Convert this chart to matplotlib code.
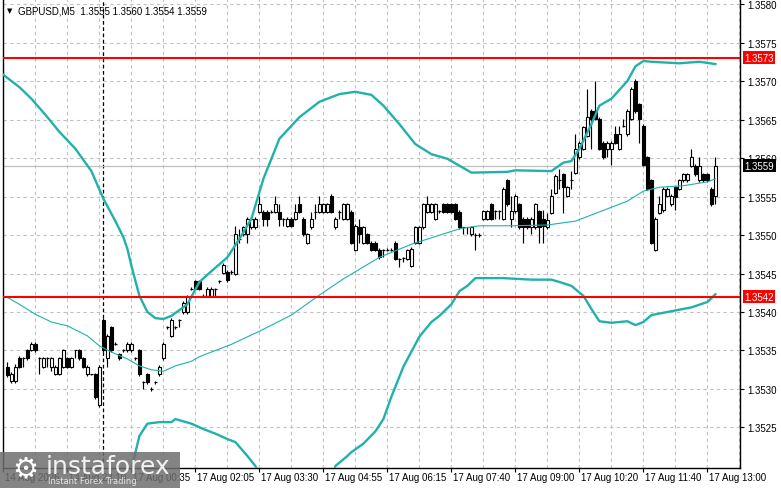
import matplotlib.pyplot as plt
from matplotlib.patches import Rectangle

# GBPUSD M5 candles, bars 1..178 (left to right)
opens = [1.35329, 1.35310, 1.35310, 1.35340, 1.35340, 1.35350, 1.35350, 1.35359, 1.35340, 1.35329,
         1.35340, 1.35329, 1.35319, 1.35319, 1.35329, 1.35340, 1.35329, 1.35350, 1.35350, 1.35340,
         1.35319, 1.35319, 1.35319, 1.35279, 1.35390, 1.35340, 1.35380, 1.35359, 1.35345, 1.35350,
         1.35350, 1.35350, 1.35340, 1.35350, 1.35309, 1.35319, 1.35300, 1.35309, 1.35319, 1.35340,
         1.35380, 1.35369, 1.35380, 1.35390, 1.35400, 1.35400, 1.35430, 1.35440, 1.35440, 1.35421,
         1.35421, 1.35421, 1.35430, 1.35440, 1.35451, 1.35452, 1.35452, 1.35450, 1.35495, 1.35501,
         1.35501, 1.35510, 1.35510, 1.35530, 1.35530, 1.35530, 1.35530, 1.35530, 1.35530, 1.35521,
         1.35512, 1.35521, 1.35521, 1.35540, 1.35521, 1.35490, 1.35510, 1.35530, 1.35530, 1.35530,
         1.35530, 1.35551, 1.35510, 1.35530, 1.35521, 1.35521, 1.35530, 1.35481, 1.35510, 1.35490,
         1.35501, 1.35490, 1.35490, 1.35481, 1.35481, 1.35481, 1.35481, 1.35490, 1.35469, 1.35470,
         1.35469, 1.35460, 1.35490, 1.35490, 1.35510, 1.35530, 1.35530, 1.35521, 1.35531, 1.35540,
         1.35540, 1.35540, 1.35540, 1.35530, 1.35510, 1.35510, 1.35501, 1.35500, 1.35500, 1.35521,
         1.35521, 1.35540, 1.35531, 1.35531, 1.35521, 1.35571, 1.35521, 1.35531, 1.35540, 1.35521,
         1.35521, 1.35510, 1.35510, 1.35531, 1.35521, 1.35510, 1.35529, 1.35555, 1.35571, 1.35579,
         1.35551, 1.35571, 1.35581, 1.35601, 1.35612, 1.35629, 1.35661, 1.35661, 1.35651, 1.35620,
         1.35612, 1.35612, 1.35631, 1.35612, 1.35642, 1.35631, 1.35651, 1.35700, 1.35670, 1.35642,
         1.35601, 1.35571, 1.35481, 1.35529, 1.35532, 1.35551, 1.35540, 1.35562, 1.35560, 1.35571,
         1.35571, 1.35590, 1.35590, 1.35571, 1.35579, 1.35579, 1.35560, 1.35551]
highs = [1.35335, 1.35322, 1.35332, 1.35343, 1.35341, 1.35352, 1.35361, 1.35361, 1.35342, 1.35342,
         1.35341, 1.35342, 1.35331, 1.35342, 1.35352, 1.35342, 1.35342, 1.35351, 1.35352, 1.35342,
         1.35331, 1.35320, 1.35321, 1.35331, 1.35392, 1.35371, 1.35382, 1.35361, 1.35347, 1.35352,
         1.35361, 1.35361, 1.35342, 1.35352, 1.35310, 1.35321, 1.35302, 1.35311, 1.35331, 1.35361,
         1.35382, 1.35392, 1.35382, 1.35391, 1.35414, 1.35422, 1.35432, 1.35442, 1.35442, 1.35423,
         1.35432, 1.35432, 1.35431, 1.35442, 1.35463, 1.35454, 1.35454, 1.35512, 1.35508, 1.35512,
         1.35523, 1.35523, 1.35523, 1.35551, 1.35532, 1.35532, 1.35532, 1.35551, 1.35540, 1.35522,
         1.35523, 1.35523, 1.35540, 1.35551, 1.35523, 1.35503, 1.35530, 1.35540, 1.35551, 1.35542,
         1.35542, 1.35553, 1.35523, 1.35532, 1.35542, 1.35542, 1.35532, 1.35514, 1.35521, 1.35512,
         1.35503, 1.35492, 1.35492, 1.35483, 1.35482, 1.35483, 1.35483, 1.35492, 1.35470, 1.35471,
         1.35482, 1.35484, 1.35512, 1.35512, 1.35542, 1.35551, 1.35542, 1.35542, 1.35533, 1.35542,
         1.35542, 1.35542, 1.35542, 1.35532, 1.35511, 1.35511, 1.35512, 1.35502, 1.35502, 1.35533,
         1.35533, 1.35542, 1.35532, 1.35532, 1.35562, 1.35573, 1.35551, 1.35553, 1.35542, 1.35523,
         1.35523, 1.35523, 1.35542, 1.35533, 1.35533, 1.35529, 1.35560, 1.35579, 1.35586, 1.35581,
         1.35564, 1.35583, 1.35631, 1.35622, 1.35642, 1.35690, 1.35663, 1.35700, 1.35653, 1.35622,
         1.35622, 1.35622, 1.35642, 1.35642, 1.35651, 1.35663, 1.35692, 1.35702, 1.35672, 1.35644,
         1.35603, 1.35573, 1.35523, 1.35551, 1.35562, 1.35562, 1.35553, 1.35564, 1.35573, 1.35581,
         1.35581, 1.35612, 1.35592, 1.35601, 1.35581, 1.35581, 1.35562, 1.35601]
lows = [1.35315, 1.35308, 1.35308, 1.35327, 1.35329, 1.35338, 1.35349, 1.35348, 1.35319, 1.35327,
        1.35329, 1.35324, 1.35318, 1.35318, 1.35327, 1.35327, 1.35327, 1.35340, 1.35338, 1.35327,
        1.35317, 1.35318, 1.35287, 1.35277, 1.35348, 1.35329, 1.35348, 1.35357, 1.35338, 1.35348,
        1.35348, 1.35348, 1.35338, 1.35317, 1.35300, 1.35307, 1.35298, 1.35307, 1.35317, 1.35338,
        1.35378, 1.35367, 1.35378, 1.35380, 1.35398, 1.35398, 1.35428, 1.35428, 1.35428, 1.35419,
        1.35419, 1.35419, 1.35421, 1.35438, 1.35449, 1.35439, 1.35450, 1.35448, 1.35490, 1.35499,
        1.35490, 1.35508, 1.35508, 1.35528, 1.35512, 1.35512, 1.35528, 1.35528, 1.35512, 1.35512,
        1.35510, 1.35510, 1.35519, 1.35528, 1.35499, 1.35488, 1.35508, 1.35521, 1.35528, 1.35528,
        1.35528, 1.35528, 1.35508, 1.35521, 1.35519, 1.35519, 1.35488, 1.35479, 1.35490, 1.35488,
        1.35488, 1.35479, 1.35479, 1.35469, 1.35471, 1.35479, 1.35479, 1.35467, 1.35458, 1.35465,
        1.35467, 1.35458, 1.35488, 1.35488, 1.35508, 1.35528, 1.35528, 1.35519, 1.35529, 1.35528,
        1.35528, 1.35528, 1.35519, 1.35508, 1.35501, 1.35501, 1.35499, 1.35480, 1.35498, 1.35519,
        1.35519, 1.35519, 1.35521, 1.35521, 1.35519, 1.35538, 1.35510, 1.35529, 1.35508, 1.35490,
        1.35508, 1.35501, 1.35508, 1.35490, 1.35490, 1.35508, 1.35527, 1.35553, 1.35560, 1.35529,
        1.35549, 1.35560, 1.35579, 1.35599, 1.35610, 1.35627, 1.35612, 1.35649, 1.35610, 1.35599,
        1.35601, 1.35591, 1.35618, 1.35610, 1.35640, 1.35629, 1.35649, 1.35659, 1.35620, 1.35589,
        1.35558, 1.35488, 1.35479, 1.35527, 1.35530, 1.35549, 1.35538, 1.35532, 1.35558, 1.35569,
        1.35569, 1.35588, 1.35577, 1.35569, 1.35569, 1.35569, 1.35538, 1.35540]
closes = [1.35318, 1.35319, 1.35329, 1.35329, 1.35340, 1.35340, 1.35359, 1.35350, 1.35340, 1.35340,
          1.35340, 1.35340, 1.35329, 1.35340, 1.35350, 1.35329, 1.35340, 1.35350, 1.35340, 1.35329,
          1.35329, 1.35319, 1.35289, 1.35329, 1.35350, 1.35369, 1.35350, 1.35359, 1.35340, 1.35350,
          1.35359, 1.35359, 1.35340, 1.35319, 1.35309, 1.35309, 1.35300, 1.35309, 1.35329, 1.35359,
          1.35380, 1.35390, 1.35380, 1.35390, 1.35412, 1.35420, 1.35430, 1.35430, 1.35430, 1.35421,
          1.35430, 1.35430, 1.35430, 1.35440, 1.35461, 1.35441, 1.35452, 1.35501, 1.35495, 1.35510,
          1.35521, 1.35521, 1.35521, 1.35540, 1.35521, 1.35521, 1.35530, 1.35540, 1.35521, 1.35521,
          1.35521, 1.35512, 1.35530, 1.35530, 1.35501, 1.35501, 1.35521, 1.35530, 1.35540, 1.35540,
          1.35540, 1.35530, 1.35521, 1.35530, 1.35540, 1.35540, 1.35490, 1.35512, 1.35501, 1.35510,
          1.35490, 1.35481, 1.35481, 1.35471, 1.35481, 1.35481, 1.35481, 1.35469, 1.35469, 1.35470,
          1.35480, 1.35482, 1.35510, 1.35510, 1.35540, 1.35540, 1.35540, 1.35540, 1.35531, 1.35530,
          1.35530, 1.35530, 1.35521, 1.35510, 1.35510, 1.35510, 1.35510, 1.35500, 1.35500, 1.35531,
          1.35531, 1.35521, 1.35531, 1.35531, 1.35560, 1.35540, 1.35531, 1.35551, 1.35510, 1.35510,
          1.35510, 1.35521, 1.35540, 1.35510, 1.35512, 1.35519, 1.35551, 1.35577, 1.35571, 1.35562,
          1.35562, 1.35571, 1.35612, 1.35620, 1.35640, 1.35653, 1.35651, 1.35651, 1.35612, 1.35601,
          1.35620, 1.35620, 1.35620, 1.35631, 1.35642, 1.35661, 1.35690, 1.35661, 1.35651, 1.35591,
          1.35560, 1.35490, 1.35521, 1.35540, 1.35560, 1.35560, 1.35551, 1.35549, 1.35571, 1.35579,
          1.35579, 1.35601, 1.35579, 1.35590, 1.35571, 1.35571, 1.35540, 1.35590]
bars = list(range(1, len(closes) + 1))

# Bollinger upper / lower band and moving average, read at some bars
upper_x = [0, 4, 7, 11, 14, 18, 22, 25, 28, 30, 31, 32, 34, 36, 38, 40, 42, 46, 49, 52, 56, 59, 62, 65,
           69, 74, 79, 84, 88, 92, 95, 99, 103, 107, 111, 117, 126, 128, 137, 140, 142, 144, 147, 149,
           152, 156, 158, 160, 162, 169, 174, 178]
upper_y = [1.35708, 1.35692, 1.35677, 1.35653, 1.35634, 1.35612, 1.35583, 1.35547, 1.35518, 1.35497,
           1.35482, 1.35460, 1.35421, 1.35400, 1.35392, 1.35391, 1.35395, 1.35410, 1.35439, 1.35453,
           1.35471, 1.35495, 1.35521, 1.35573, 1.35625, 1.35653, 1.35673, 1.35683, 1.35686, 1.35682,
           1.35668, 1.35644, 1.35618, 1.35605, 1.35599, 1.35581, 1.35582, 1.35584, 1.35583, 1.35594,
           1.35596, 1.35612, 1.35644, 1.35668, 1.35677, 1.35700, 1.35719, 1.35726, 1.35725, 1.35723,
           1.35725, 1.35722]
lower_x = [31, 32, 34, 36, 39, 42, 43, 47, 50, 53, 56, 58, 61, 63, 65, 82, 83, 86, 87, 90, 93, 95, 97,
           100, 104, 107, 109, 112, 114, 116, 118, 125, 132, 137, 139, 142, 145, 147, 149, 152, 156,
           158, 160, 162, 167, 169, 172, 176, 178]
lower_y = [1.35160, 1.35196, 1.35239, 1.35255, 1.35257, 1.35257, 1.35261, 1.35255, 1.35248, 1.35242,
           1.35235, 1.35231, 1.35213, 1.35200, 1.35180, 1.35180, 1.35200, 1.35213, 1.35218, 1.35229,
           1.35245, 1.35261, 1.35290, 1.35329, 1.35368, 1.35387, 1.35395, 1.35410, 1.35427, 1.35434,
           1.35444, 1.35444, 1.35442, 1.35442, 1.35439, 1.35434, 1.35421, 1.35404, 1.35388, 1.35386,
           1.35388, 1.35383, 1.35387, 1.35396, 1.35401, 1.35403, 1.35406, 1.35413, 1.35423]
ma_x = [1, 4, 8, 12, 16, 21, 24, 27, 31, 34, 37, 40, 43, 47, 49, 57, 64, 72, 79, 85, 94, 102, 114,
        119, 127, 136, 143, 151, 156, 160, 164, 170, 176, 178]
ma_y = [1.35419, 1.35410, 1.35397, 1.35387, 1.35382, 1.35369, 1.35356, 1.35348, 1.35339, 1.35330,
        1.35325, 1.35323, 1.35330, 1.35336, 1.35342, 1.35358, 1.35375, 1.35396, 1.35422, 1.35443,
        1.35471, 1.35488, 1.35508, 1.35512, 1.35512, 1.35513, 1.35518, 1.35534, 1.35544, 1.35557,
        1.35562, 1.35564, 1.35569, 1.35573]

levels = [1.3573, 1.3542]
last_price = 1.3559
day_break = 25

price_ticks = [1.3525, 1.3530, 1.3535, 1.3540, 1.3545, 1.3550, 1.3555, 1.3560, 1.3565, 1.3570,
               1.3575, 1.3580]
time_ticks = [0, 16, 32, 48, 64, 80, 96, 112, 128, 144, 160, 176]
time_labels = ['14 Aug 2026', '14 Aug 23:10', '17 Aug 00:35', '17 Aug 02:05', '17 Aug 03:30',
               '17 Aug 04:55', '17 Aug 06:15', '17 Aug 07:40', '17 Aug 09:00', '17 Aug 10:20',
               '17 Aug 11:40', '17 Aug 13:00']

plt.rcParams['font.family'] = ['Liberation Sans', 'DejaVu Sans']
teal = '#20b2aa'
grid_c = '#c0c0c0'
fs = 7

fig = plt.figure(figsize=(7.81, 4.89), dpi=100)
ax = fig.add_axes([3 / 781, 20 / 489, 737 / 781, 469 / 489])
ax.set_xlim(-0.1, 184.15)
ax.set_ylim(1.351974, 1.358065)

# grid
for p in price_ticks:
    ax.axhline(p, color=grid_c, lw=0.8, ls=(0, (3, 3)), zorder=0)
for g in range(0, 185, 8):
    ax.axvline(g, color=grid_c, lw=0.8, ls=(0, (3, 3)), zorder=0)

ax.axvline(day_break, color='black', lw=0.9, ls=(0, (3, 2)), zorder=1)
ax.axhline(last_price, color='#c0c0c0', lw=0.9, zorder=1)

# candles
w = 0.58
for i, o, h, l, c in zip(bars, opens, highs, lows, closes):
    ax.vlines(i, l, h, color='black', lw=0.85, zorder=2)
    if o == c:
        ax.hlines(o, i - 0.42, i + 0.42, color='black', lw=0.85, zorder=3)
    else:
        face = 'white' if c > o else 'black'
        ax.add_patch(Rectangle((i - w / 2, min(o, c)), w, abs(c - o), facecolor=face,
                               edgecolor='black', lw=0.8, zorder=3))

# indicators
ax.plot(upper_x, upper_y, color=teal, lw=1.7, zorder=4)
ax.plot(lower_x, lower_y, color=teal, lw=1.7, zorder=4)
ax.plot(ma_x, ma_y, color=teal, lw=0.8, zorder=4)

for lv in levels:
    ax.axhline(lv, color='red', lw=1.5, zorder=5)

# axes look
for s in ['left', 'bottom', 'right']:
    ax.spines[s].set_color('black')
    ax.spines[s].set_linewidth(1.0)
ax.spines['top'].set_visible(False)
ax.yaxis.tick_right()
ax.set_yticks(price_ticks)
ax.set_yticklabels(['%.4f' % p for p in price_ticks])
ax.tick_params(axis='y', direction='out', length=3, labelsize=fs, pad=2)
ax.set_xticks(time_ticks)
ax.set_xticklabels([])
ax.tick_params(axis='x', direction='out', length=3)
for t, lab in zip(time_ticks, time_labels):
    ax.annotate(lab, xy=(t, 0), xycoords=('data', 'axes fraction'), xytext=(1.5, -3),
                textcoords='offset points', ha='left', va='top', fontsize=fs,
                annotation_clip=False)

# price tags on the axis
for lv in levels:
    ax.annotate('%.4f' % lv, xy=(1, lv), xycoords=('axes fraction', 'data'), xytext=(3.2, 0),
                textcoords='offset points', ha='left', va='center', fontsize=fs, color='white',
                bbox=dict(boxstyle='square,pad=0.15', fc='red', ec='none'), annotation_clip=False)
ax.annotate('%.4f' % last_price, xy=(1, last_price), xycoords=('axes fraction', 'data'),
            xytext=(3.2, 0), textcoords='offset points', ha='left', va='center', fontsize=fs,
            color='white', bbox=dict(boxstyle='square,pad=0.15', fc='black', ec='none'),
            annotation_clip=False)

# header
fig.text(7 / 781, 1 - 11 / 489, '\u25bc', fontsize=5, va='center', ha='left',
         family='DejaVu Sans')
fig.text(18 / 781, 1 - 11 / 489, 'GBPUSD,M5  %.4f %.4f %.4f %.4f' % (opens[-1], highs[-1],
         lows[-1], closes[-1]), fontsize=fs, va='center', ha='left')

# watermark
fig.patches.append(Rectangle((0, 0), 180 / 781, 36 / 489, transform=fig.transFigure,
                             facecolor='#6e6e6e', alpha=0.85, edgecolor='none', zorder=10))
fig.text(25 / 781, 20 / 489, '\u2699', fontsize=21, color='white', ha='center', va='center',
         family='DejaVu Sans', zorder=11)
fig.text(46 / 781, 22 / 489, 'instaforex', fontsize=18, color='#f2f2f2', ha='left',
         va='center', family='DejaVu Sans', zorder=11)
fig.text(48 / 781, 7 / 489, 'Instant Forex Trading', fontsize=6, color='#e6e6e6', ha='left',
         va='center', family='DejaVu Sans', zorder=11)

fig.savefig('out.png', dpi=100)
